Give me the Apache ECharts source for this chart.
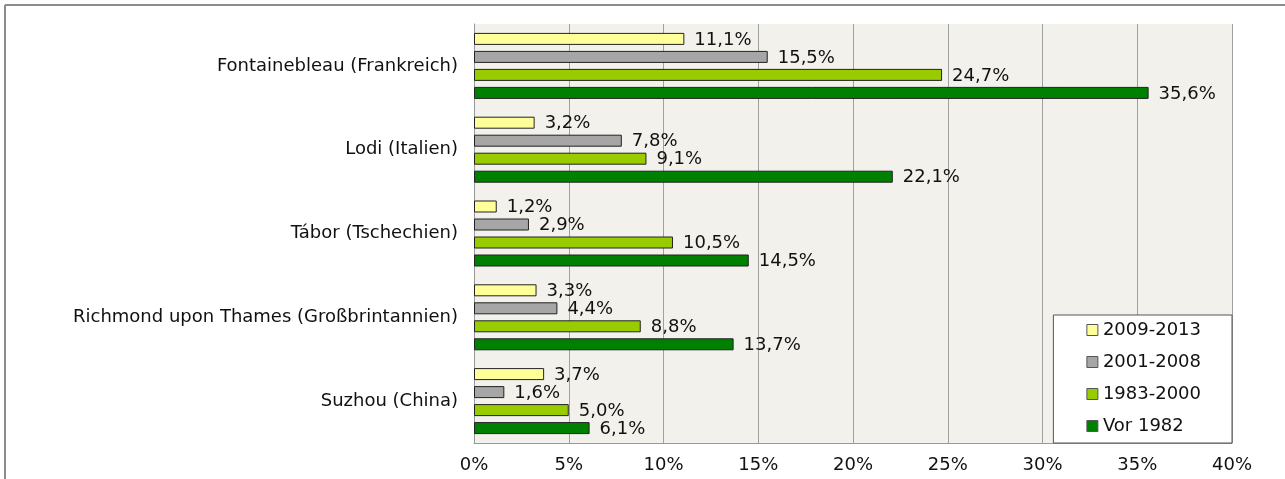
<!DOCTYPE html>
<html>
<head>
<meta charset="utf-8">
<script src="https://cdn.jsdelivr.net/npm/echarts@6/dist/echarts.min.js"></script>
<style>
  html, body { margin: 0; padding: 0; background: #fff; }
  #chart { width: 1285px; height: 479px; }
</style>
</head>
<body>
<div id="chart"></div>
<script>
const cities = ['Fontainebleau (Frankreich)', 'Lodi (Italien)', 'Tábor (Tschechien)', 'Richmond upon Thames (Großbrintannien)', 'Suzhou (China)']
const periods = ['2009-2013', '2001-2008', '1983-2000', 'Vor 1982']
const v2009 = [11.1, 3.2, 1.2, 3.3, 3.7]
const v2001 = [15.5, 7.8, 2.9, 4.4, 1.6]
const v1983 = [24.7, 9.1, 10.5, 8.8, 5.0]
const vVor = [35.6, 22.1, 14.5, 13.7, 6.1]
const colors = ['#ffff99', '#a6a6a6', '#99cc00', '#008000']

const chart = echarts.init(document.getElementById('chart'))
const font = 'DejaVu Sans, sans-serif'

const makeSeries = (name, data, color) => ({
  name,
  type: 'bar',
  data,
  barWidth: 12,
  barGap: '50%',
  itemStyle: { color, borderColor: '#222', borderWidth: 1 },
  label: {
    show: true,
    position: 'right',
    distance: 10,
    offset: [0, 1],
    fontFamily: font,
    fontSize: 18,
    color: '#111',
    formatter: (p) => p.value.toFixed(1).replace('.', ',') + '%'
  }
})

chart.setOption({
  animation: false,
  textStyle: { fontFamily: font },
  graphic: [
    { type: 'line', shape: { x1: 5, y1: 5, x2: 1285, y2: 5 }, style: { stroke: '#8c8c8c', lineWidth: 2 } },
    { type: 'line', shape: { x1: 5, y1: 5, x2: 5, y2: 479 }, style: { stroke: '#8c8c8c', lineWidth: 2 } }
  ],
  grid: {
    left: 474,
    right: 53,
    top: 24,
    bottom: 36,
    show: true,
    backgroundColor: '#f2f1eb',
    borderWidth: 0
  },
  legend: {
    data: periods,
    orient: 'vertical',
    right: 53,
    bottom: 36,
    backgroundColor: '#fff',
    borderColor: '#555',
    borderWidth: 1,
    padding: [6, 31, 8, 33],
    itemGap: 14,
    itemWidth: 11,
    itemHeight: 11,
    itemStyle: { borderColor: '#555', borderWidth: 1 },
    icon: 'rect',
    textStyle: { fontFamily: font, fontSize: 18, color: '#111' }
  },
  xAxis: {
    type: 'value',
    min: 0,
    max: 40,
    interval: 5,
    axisLine: { show: true, lineStyle: { color: '#999' } },
    axisTick: { show: false },
    axisLabel: { formatter: '{value}%', fontSize: 18, color: '#111', margin: 13 },
    splitLine: { show: true, lineStyle: { color: '#a0a0a0', width: 1 } }
  },
  yAxis: {
    type: 'category',
    data: cities,
    inverse: true,
    axisLine: { show: true, lineStyle: { color: '#999' } },
    axisTick: { show: false },
    axisLabel: { fontSize: 18, color: '#111', margin: 16 }
  },
  series: [
    makeSeries(periods[0], v2009, colors[0]),
    makeSeries(periods[1], v2001, colors[1]),
    makeSeries(periods[2], v1983, colors[2]),
    makeSeries(periods[3], vVor, colors[3])
  ]
})
</script>
</body>
</html>
